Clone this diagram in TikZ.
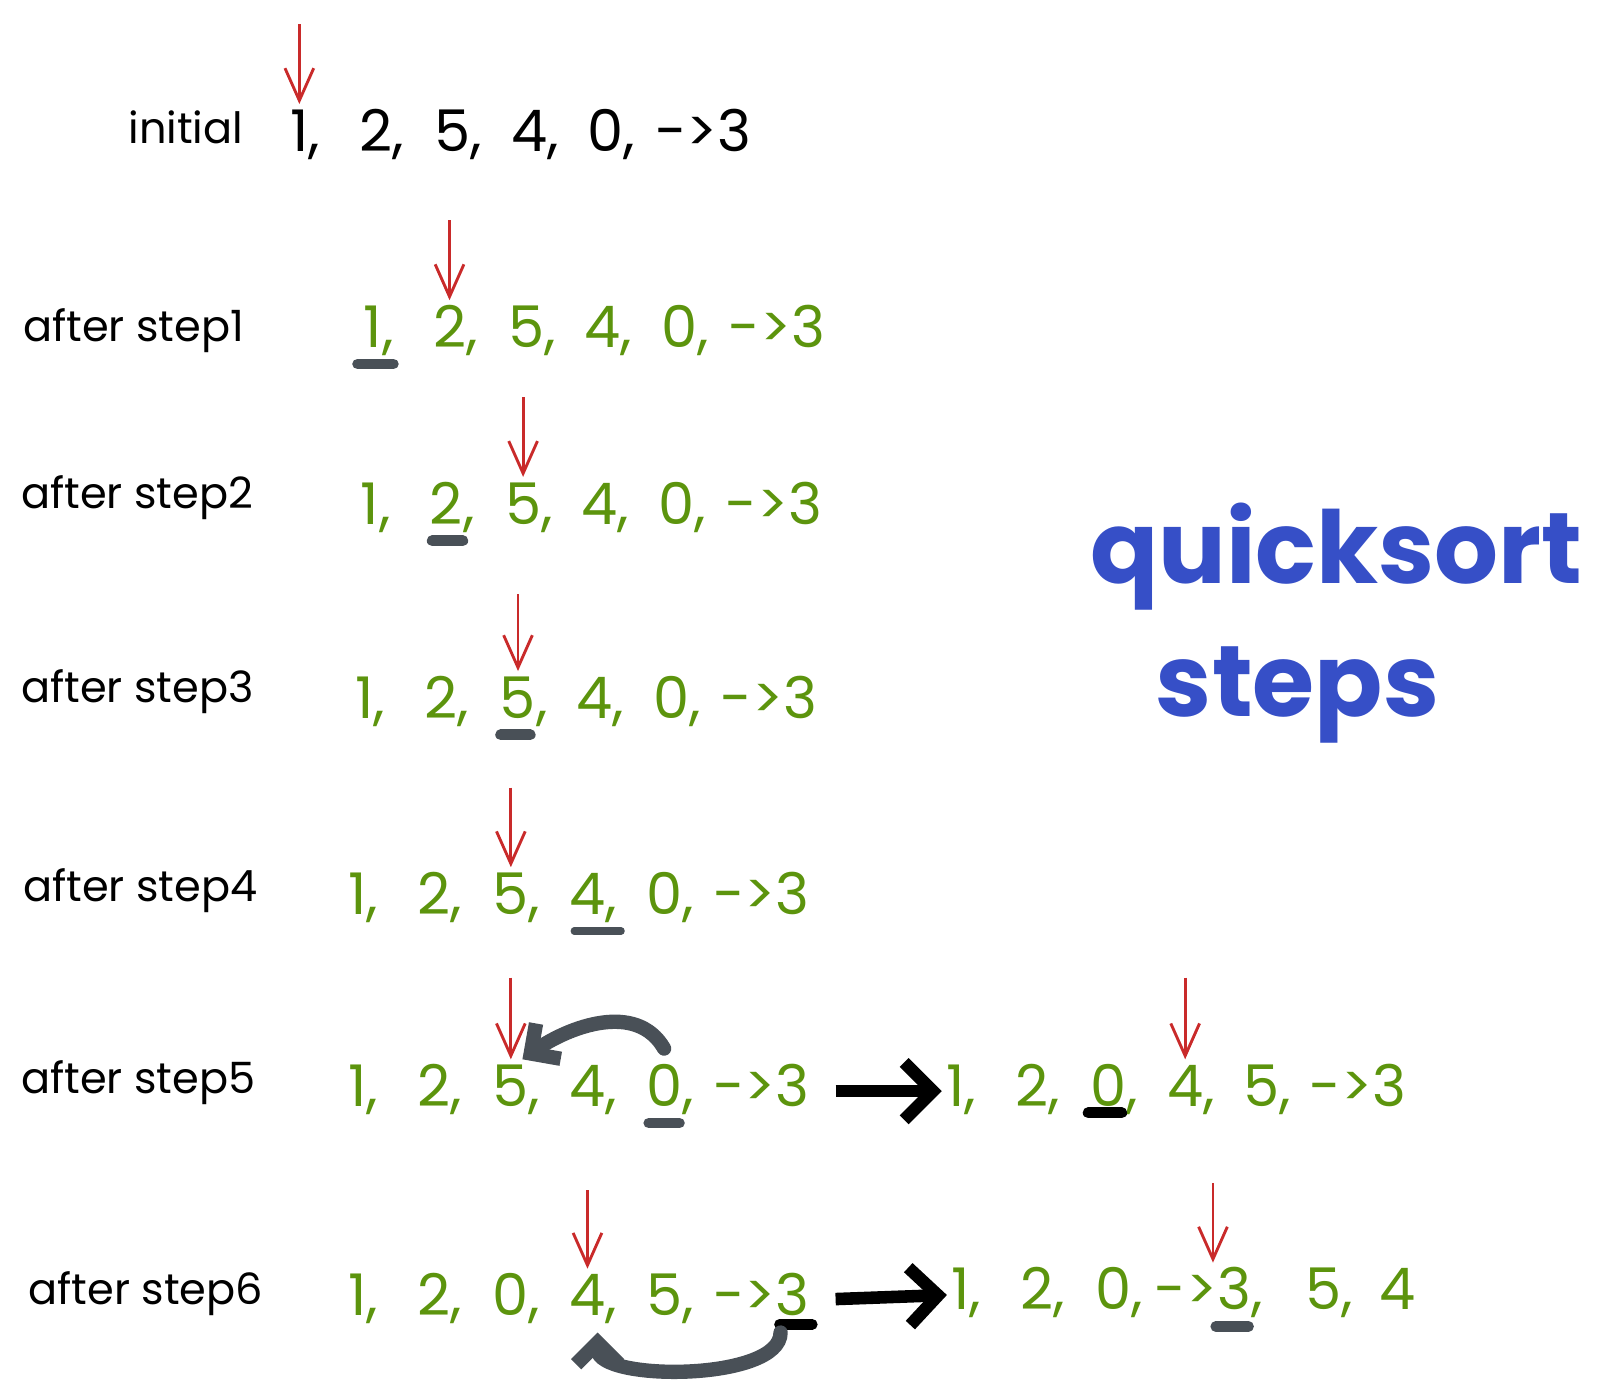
\documentclass[tikz,border=0pt]{standalone}
\usepackage{fontspec}
\setmainfont{Poppins}
\usepackage{tikz}
\usetikzlibrary{arrows,arrows.meta,positioning,calc}
\definecolor{sketchgreen}{RGB}{92,148,13}
\definecolor{sketchred}{RGB}{201,42,42}
\definecolor{sketchblue}{RGB}{54,79,199}
\definecolor{sketchgray}{RGB}{73,80,87}
\tikzstyle{rowname} = [anchor=base west, inner sep=0pt, font=\fontsize{12}{14}\selectfont]
\tikzstyle{num} = [text=sketchgreen, font=\fontsize{16}{18}\selectfont, text height=0.42cm, text depth=0.12cm, inner sep=1pt]
\tikzstyle{numblack} = [num, text=black]
\tikzstyle{ptr} = [draw=sketchred, line width=0.8pt, -{Straight Barb[length=9pt,width=8pt]}]
\tikzstyle{uline} = [draw=sketchgray, line width=3pt, line cap=round]
\tikzstyle{swapline} = [draw=sketchgray, line width=4pt, line cap=round, -{Straight Barb[length=6pt,width=12pt]}]
\tikzstyle{bigarrow} = [draw=black, line width=3.5pt, -{Straight Barb[length=8pt,width=16pt]}]
\tikzstyle{title} = [text=sketchblue, font=\fontsize{28}{30}\selectfont\bfseries]

\begin{document}
\begin{tikzpicture}[x=1cm, y=1cm, node distance=0.75cm, >=stealth']
    \useasboundingbox (0,0) rectangle (15.68,-13.64);

    % initial
    \node[rowname] (lab0) at (1.25,-1.40) {initial};
    \node[numblack] (a1) at (2.93,-1.33) {1\rlap{,}};
    \node[numblack, right of=a1] (a2) {2\rlap{,}};
    \node[numblack, right of=a2] (a3) {5\rlap{,}};
    \node[numblack, right of=a3] (a4) {4\rlap{,}};
    \node[numblack, right of=a4] (a5) {0\rlap{,}};
    \node[numblack, node distance=1.26cm, right of=a5] (a6) {\llap{->}3};
    \coordinate[above=0.78cm of a1.north] (pa);
    \draw[ptr] (pa) -- (a1.north);

    % step 1
    \node[rowname] (lab1) at (0.22,-3.34) {after step1};
    \node[num] (b1) at (3.65,-3.25) {1\rlap{,}};
    \node[num, right of=b1] (b2) {2\rlap{,}};
    \node[num, right of=b2] (b3) {5\rlap{,}};
    \node[num, right of=b3] (b4) {4\rlap{,}};
    \node[num, right of=b4] (b5) {0\rlap{,}};
    \node[num, node distance=1.26cm, right of=b5] (b6) {\llap{->}3};
    \coordinate[above=0.78cm of b2.north] (pb);
    \draw[ptr] (pb) -- (b2.north);
    \draw[uline] ([xshift=-0.15cm]b1.south) -- ([xshift=0.2cm]b1.south);

    % step 2
    \node[rowname] (lab2) at (0.20,-4.98) {after step2};
    \node[num] (c1) at (3.62,-4.98) {1\rlap{,}};
    \node[num, right of=c1] (c2) {2\rlap{,}};
    \node[num, right of=c2] (c3) {5\rlap{,}};
    \node[num, right of=c3] (c4) {4\rlap{,}};
    \node[num, right of=c4] (c5) {0\rlap{,}};
    \node[num, node distance=1.26cm, right of=c5] (c6) {\llap{->}3};
    \coordinate[above=0.78cm of c3.north] (pc);
    \draw[ptr] (pc) -- (c3.north);
    \draw[uline] ([xshift=-0.14cm]c2.south) -- ([xshift=0.16cm]c2.south);

    % step 3
    \node[rowname] (lab3) at (0.20,-6.88) {after step3};
    \node[num] (d1) at (3.57,-6.88) {1\rlap{,}};
    \node[num, right of=d1] (d2) {2\rlap{,}};
    \node[num, right of=d2] (d3) {5\rlap{,}};
    \node[num, right of=d3] (d4) {4\rlap{,}};
    \node[num, right of=d4] (d5) {0\rlap{,}};
    \node[num, node distance=1.26cm, right of=d5] (d6) {\llap{->}3};
    \coordinate[above=0.75cm of d3.north] (pd);
    \draw[ptr] (pd) -- (d3.north);
    \draw[uline] ([xshift=-0.17cm]d3.south) -- ([xshift=0.12cm]d3.south);

    % step 4
    \node[rowname] (lab4) at (0.22,-8.82) {after step4};
    \node[num] (e1) at (3.50,-8.80) {1\rlap{,}};
    \node[num, right of=e1] (e2) {2\rlap{,}};
    \node[num, right of=e2] (e3) {5\rlap{,}};
    \node[num, right of=e3] (e4) {4\rlap{,}};
    \node[num, right of=e4] (e5) {0\rlap{,}};
    \node[num, node distance=1.26cm, right of=e5] (e6) {\llap{->}3};
    \coordinate[above=0.78cm of e3.north] (pe);
    \draw[ptr] (pe) -- (e3.north);
    \draw[uline, line width=2pt] ([xshift=-0.13cm]e4.south) -- ([xshift=0.33cm]e4.south);

    % step 5
    \node[rowname] (lab5) at (0.20,-10.70) {after step5};
    \node[num] (f1) at (3.50,-10.68) {1\rlap{,}};
    \node[num, right of=f1] (f2) {2\rlap{,}};
    \node[num, right of=f2] (f3) {5\rlap{,}};
    \node[num, right of=f3] (f4) {4\rlap{,}};
    \node[num, right of=f4] (f5) {0\rlap{,}};
    \node[num, node distance=1.26cm, right of=f5] (f6) {\llap{->}3};
    \coordinate[above=0.8cm of f3.north] (pf);
    \draw[ptr] (pf) -- (f3.north);
    \draw[uline] ([xshift=-0.15cm]f5.south) -- ([xshift=0.15cm]f5.south);
    \draw[swapline] ([yshift=3pt]f5.north) to[out=120, in=35] ([xshift=-3pt]f3.north east);

    \node[num] (p1) at (9.35,-10.68) {1\rlap{,}};
    \node[num, right of=p1] (p2) {2\rlap{,}};
    \node[num, right of=p2] (p3) {0\rlap{,}};
    \node[num, right of=p3] (p4) {4\rlap{,}};
    \node[num, right of=p4] (p5) {5\rlap{,}};
    \node[num, node distance=1.25cm, right of=p5] (p6) {\llap{->}3};
    \coordinate[above=0.8cm of p4.north] (pp);
    \draw[ptr] (pp) -- (p4.north);
    \draw[uline, draw=black] ([xshift=-0.2cm, yshift=0.1cm]p3.south) -- ([xshift=0.13cm, yshift=0.1cm]p3.south);
    \draw[bigarrow, shorten <=6pt] (f6) -- (p1);

    % step 6
    \node[rowname] (lab6) at (0.27,-12.77) {after step6};
    \node[num] (g1) at (3.50,-12.73) {1\rlap{,}};
    \node[num, right of=g1] (g2) {2\rlap{,}};
    \node[num, right of=g2] (g3) {0\rlap{,}};
    \node[num, right of=g3] (g4) {4\rlap{,}};
    \node[num, right of=g4] (g5) {5\rlap{,}};
    \node[num, node distance=1.26cm, right of=g5] (g6) {\llap{->}3};
    \coordinate[above=0.77cm of g4.north] (pg);
    \draw[ptr] (pg) -- (g4.north);
    \draw[uline, draw=black] ([xshift=-0.13cm, yshift=0.08cm]g6.south) -- ([xshift=0.19cm, yshift=0.08cm]g6.south);
    \draw[swapline] ([xshift=-0.12cm]g6.south) .. controls +(0,-0.48) and +(0,-0.48) .. ([xshift=0.1cm]g4.south);

    \node[num] (q1) at (9.40,-12.67) {1\rlap{,}};
    \node[num, right of=q1] (q2) {2\rlap{,}};
    \node[num, right of=q2] (q3) {0\rlap{,}};
    \node[num, node distance=1.18cm, right of=q3] (q4) {\llap{->}3\rlap{,}};
    \node[num, node distance=0.87cm, right of=q4] (q5) {5\rlap{,}};
    \node[num, node distance=0.73cm, right of=q5] (q6) {4};
    \coordinate[above=0.78cm of q4.north west] (pq);
    \draw[ptr] (pq) -- (q4.north west);
    \draw[uline] ([xshift=-0.18cm]q4.south) -- ([xshift=0.14cm]q4.south);
    \draw[bigarrow, shorten <=6pt] (g6) -- (q1);

    % title
    \node[title] (qs) at (13.08,-5.45) {quicksort};
    \node[title] (st) at (12.70,-6.80) {steps};
\end{tikzpicture}
\end{document}
